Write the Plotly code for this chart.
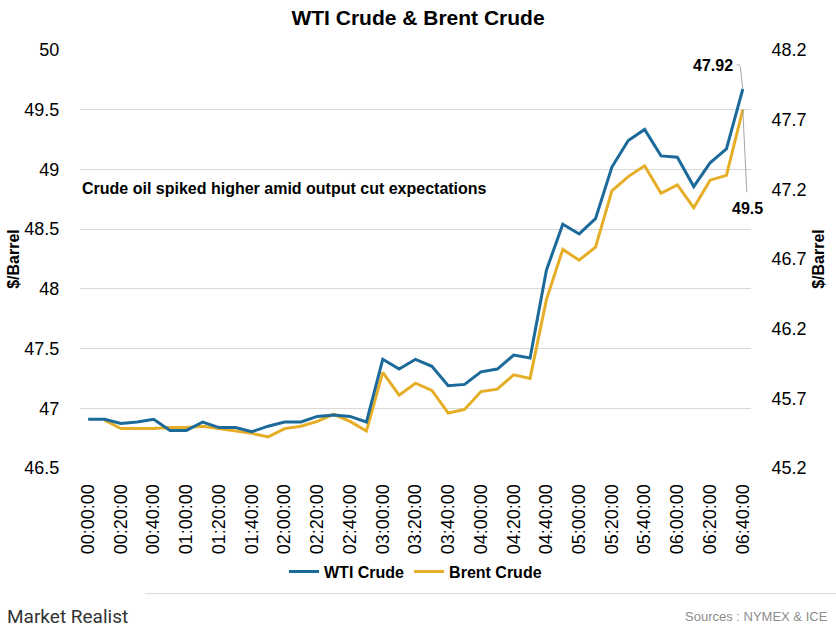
import plotly.graph_objects as go

times = ["00:00:00", "00:10:00", "00:20:00", "00:30:00", "00:40:00", "00:50:00",
         "01:00:00", "01:10:00", "01:20:00", "01:30:00", "01:40:00", "01:50:00",
         "02:00:00", "02:10:00", "02:20:00", "02:30:00", "02:40:00", "02:50:00",
         "03:00:00", "03:10:00", "03:20:00", "03:30:00", "03:40:00", "03:50:00",
         "04:00:00", "04:10:00", "04:20:00", "04:30:00", "04:40:00", "04:50:00",
         "05:00:00", "05:10:00", "05:20:00", "05:30:00", "05:40:00", "05:50:00",
         "06:00:00", "06:10:00", "06:20:00", "06:30:00", "06:40:00"]

wti = [45.55, 45.55, 45.52, 45.53, 45.55, 45.47, 45.47, 45.53, 45.49, 45.49,
       45.46, 45.50, 45.53, 45.53, 45.57, 45.58, 45.57, 45.53, 45.98, 45.91,
       45.98, 45.93, 45.79, 45.80, 45.89, 45.91, 46.01, 45.99, 46.62, 46.95,
       46.88, 46.99, 47.36, 47.55, 47.63, 47.44, 47.43, 47.22, 47.39, 47.49,
       47.92]

brent = [None, 46.90, 46.83, 46.83, 46.83, 46.84, 46.84, 46.85, 46.83, 46.81,
         46.79, 46.76, 46.83, 46.85, 46.89, 46.95, 46.89, 46.81, 47.30, 47.11,
         47.21, 47.15, 46.96, 46.99, 47.14, 47.16, 47.28, 47.25, 47.91, 48.33,
         48.24, 48.35, 48.82, 48.94, 49.03, 48.80, 48.87, 48.68, 48.91, 48.95,
         49.50]

left_ticks = [46.5, 47, 47.5, 48, 48.5, 49, 49.5, 50]
right_ticks = [45.2, 45.7, 46.2, 46.7, 47.2, 47.7, 48.2]

BLUE = "#1B6A9A"
GOLD = "#E6AE27"
FONT = "Liberation Sans, Arial, sans-serif"

fig = go.Figure()
fig.add_trace(go.Scatter(x=times, y=wti, name="<b>WTI Crude</b>", mode="lines",
                         line=dict(color=BLUE, width=3), yaxis="y2"))
fig.add_trace(go.Scatter(x=times, y=brent, name="<b>Brent Crude</b>", mode="lines",
                         line=dict(color=GOLD, width=3), yaxis="y"))

fig.update_layout(
    width=836, height=630,
    margin=dict(l=80, r=85, t=50, b=162),
    paper_bgcolor="white", plot_bgcolor="white",
    font=dict(family=FONT, color="#000"),
    title=dict(text="<b>WTI Crude & Brent Crude</b>", x=0.5, xanchor="center",
               y=1 - 18 / 630, yanchor="middle", yref="container",
               font=dict(size=21, color="#000")),
    showlegend=True,
    legend=dict(orientation="h", x=0.5, xanchor="center", y=-0.248, yanchor="middle",
                font=dict(size=16, color="#000", family=FONT), itemwidth=30,
                traceorder="normal"),
    xaxis=dict(type="category", range=[-0.5, len(times) - 0.5],
               tickvals=times[::2], ticktext=times[::2], tickangle=-90,
               tickfont=dict(size=18, color="#000"), showgrid=False,
               ticks="outside", ticklen=8, tickcolor="rgba(0,0,0,0)",
               showline=False, zeroline=False),
    yaxis=dict(range=[46.5, 50], tickvals=left_ticks,
               ticktext=[f"{v:g}" for v in left_ticks],
               tickfont=dict(size=18, color="#000"),
               showgrid=True, gridcolor="#D9D9D9", gridwidth=1, zeroline=False,
               ticks="outside", ticklen=16, tickcolor="rgba(0,0,0,0)",
               title=dict(text="<b>$/Barrel</b>", font=dict(size=16, color="#000"),
                          standoff=0)),
    yaxis2=dict(range=[45.2, 48.2], tickvals=right_ticks,
                ticktext=[f"{v:g}" for v in right_ticks],
                overlaying="y", side="right", showgrid=False, zeroline=False,
                tickfont=dict(size=18, color="#000"),
                ticks="outside", ticklen=16, tickcolor="rgba(0,0,0,0)",
                title=dict(text="<b>$/Barrel</b>", font=dict(size=16, color="#000"),
                           standoff=7)),
)

# annotation text
fig.add_annotation(text="<b>Crude oil spiked higher amid output cut expectations</b>",
                   xref="paper", yref="paper", x=0.0, xanchor="left",
                   y=(468.3 - 189) / 418, yanchor="middle", showarrow=False,
                   font=dict(size=16, color="#000"))

# value labels with leader lines
last = times[-1]
fig.add_annotation(text="<b>47.92</b>", x=last, y=wti[-1], xref="x", yref="y2",
                   showarrow=False, xanchor="right", yanchor="middle",
                   xshift=-8, yshift=24, font=dict(size=16, color="#000"))
fig.add_annotation(text="", x=last, y=wti[-1], xref="x", yref="y2",
                   showarrow=True, arrowhead=0, arrowwidth=1, arrowcolor="#A6A6A6",
                   ax=-2.7, ay=-24)
fig.add_annotation(text="", x=last, y=wti[-1], xref="x", yref="y2",
                   xshift=-2.7, yshift=24,
                   showarrow=True, arrowhead=0, arrowwidth=1, arrowcolor="#A6A6A6",
                   ax=-5, ay=0)
fig.add_annotation(text="", x=last, y=brent[-1], xref="x", yref="y",
                   showarrow=True, arrowhead=0, arrowwidth=1, arrowcolor="#A6A6A6",
                   ax=4, ay=84)
fig.add_annotation(text="<b>49.5</b>", x=last, y=brent[-1], xref="x", yref="y",
                   showarrow=False, xanchor="center", yanchor="middle",
                   xshift=5, yshift=-99, font=dict(size=16, color="#000"))

# footer
fig.add_shape(type="line", xref="paper", yref="paper",
              x0=(145 - 80) / 671, x1=(836 - 80) / 671,
              y0=(468.3 - 594) / 418, y1=(468.3 - 594) / 418,
              line=dict(color="#D9D9D9", width=1))
fig.add_annotation(text="Market Realist", xref="paper", yref="paper",
                   x=(5 - 80) / 671, xanchor="left", y=(468.3 - 617) / 418,
                   yanchor="middle", showarrow=False,
                   font=dict(size=19, color="#333333", family="Roboto, sans-serif"))
fig.add_annotation(text="Sources : NYMEX & ICE", xref="paper", yref="paper",
                   x=(830 - 80) / 671, xanchor="right", y=(468.3 - 617) / 418,
                   yanchor="middle", showarrow=False,
                   font=dict(size=13, color="#8C8C8C"))

fig.write_html("out.html",
               config={"displayModeBar": False},
               post_script="document.body.style.margin='0';document.body.style.padding='0';")
